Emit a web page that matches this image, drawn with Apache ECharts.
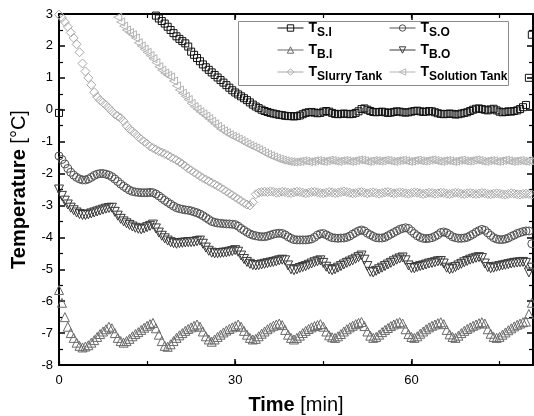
<!DOCTYPE html>
<html><head><meta charset="utf-8">
<script src="https://cdn.jsdelivr.net/npm/echarts@6/dist/echarts.min.js"></script>
<style>html,body{margin:0;padding:0;background:#fff}#c{width:534px;height:416px}</style>
</head><body><div id="c"></div>
<script>
// sampling interval of the logger [min]
const timeStep = 0.5;

// T S.I (squares)
const tSI = [
-0.1,null,null,null,null,null,null,null,null,null,
null,null,null,null,null,null,null,null,null,null,
null,null,null,null,null,null,null,null,null,null,
null,null,null,2.95,2.86,2.78,2.7,2.6,2.5,2.4,
2.3,2.22,2.15,2.08,1.98,1.82,1.72,1.62,1.52,1.42,
1.33,1.25,1.17,1.09,1.01,0.93,0.85,0.77,0.69,0.61,
0.54,0.48,0.42,0.36,0.3,0.23,0.16,0.1,0.05,0.0,
-0.04,-0.07,-0.1,-0.12,-0.14,-0.16,-0.17,-0.19,-0.2,-0.2,
-0.21,-0.2,-0.18,-0.14,-0.1,-0.08,-0.07,-0.09,-0.11,-0.1,
-0.06,-0.04,-0.06,-0.1,-0.13,-0.14,-0.13,-0.12,-0.13,-0.14,
-0.13,-0.1,-0.05,0.02,0.04,0.0,-0.04,-0.07,-0.08,-0.07,
-0.06,-0.08,-0.1,-0.09,-0.07,-0.05,-0.06,-0.08,-0.09,-0.08,
-0.06,-0.04,-0.03,-0.05,-0.07,-0.06,-0.04,-0.05,-0.08,-0.11,
-0.13,-0.14,-0.13,-0.12,-0.13,-0.15,-0.14,-0.12,-0.1,-0.08,
-0.04,0.0,0.03,0.04,0.02,0.0,-0.02,0.01,0.03,-0.02,
-0.06,-0.08,-0.07,-0.05,-0.06,-0.04,-0.02,0.02,0.08,0.15,
1.0,2.35];

// T S.O (circles)
const tSO = [
-1.45,-1.56,-1.7,-1.84,-1.96,-2.05,-2.12,-2.17,-2.2,-2.2,
-2.17,-2.12,-2.06,-2.02,-2.0,-2.0,-2.02,-2.05,-2.1,-2.17,
-2.25,-2.33,-2.4,-2.46,-2.52,-2.56,-2.58,-2.59,-2.6,-2.6,
-2.6,-2.59,-2.6,-2.64,-2.7,-2.77,-2.84,-2.9,-2.96,-3.02,
-3.07,-3.1,-3.12,-3.14,-3.15,-3.17,-3.2,-3.23,-3.27,-3.32,
-3.38,-3.44,-3.5,-3.53,-3.55,-3.56,-3.57,-3.58,-3.58,-3.59,
-3.6,-3.65,-3.72,-3.78,-3.84,-3.89,-3.93,-3.95,-3.97,-3.98,
-3.98,-3.96,-3.93,-3.9,-3.88,-3.87,-3.88,-3.92,-3.98,-4.03,
-4.07,-4.08,-4.08,-4.08,-4.08,-4.07,-4.05,-4.0,-3.93,-3.89,
-3.88,-3.92,-3.97,-4.01,-4.02,-4.03,-4.02,-4.02,-4.0,-3.96,
-3.9,-3.85,-3.8,-3.77,-3.8,-3.87,-3.92,-3.97,-4.01,-4.02,
-4.02,-4.0,-3.95,-3.9,-3.85,-3.8,-3.75,-3.72,-3.7,-3.72,
-3.8,-3.88,-3.95,-4.0,-4.03,-4.04,-4.03,-4.01,-3.97,-3.92,
-3.85,-3.83,-3.86,-3.92,-3.98,-4.01,-4.03,-4.03,-4.02,-4.0,
-3.95,-3.9,-3.84,-3.79,-3.75,-3.78,-3.86,-3.94,-4.01,-4.05,
-4.07,-4.07,-4.05,-4.02,-3.97,-3.93,-3.88,-3.85,-3.82,-3.8,
-3.8,-4.2];

// T B.I (up triangles)
const tBI = [
-5.65,-6.05,-6.5,-6.8,-7.0,-7.15,-7.3,-7.4,-7.45,-7.42,
-7.38,-7.3,-7.22,-7.12,-7.03,-6.95,-6.88,-6.8,-6.85,-7.0,
-7.15,-7.25,-7.3,-7.25,-7.18,-7.1,-7.03,-6.97,-6.9,-6.83,
-6.77,-6.72,-6.68,-6.85,-7.05,-7.25,-7.4,-7.43,-7.35,-7.25,
-7.15,-7.07,-7.0,-6.93,-6.87,-6.82,-6.77,-6.73,-6.8,-6.95,
-7.1,-7.2,-7.27,-7.2,-7.12,-7.05,-6.98,-6.92,-6.87,-6.82,
-6.78,-6.73,-6.8,-6.93,-7.05,-7.15,-7.2,-7.18,-7.1,-7.02,
-6.95,-6.88,-6.82,-6.77,-6.73,-6.7,-6.75,-6.9,-7.05,-7.15,
-7.2,-7.15,-7.08,-7.0,-6.93,-6.87,-6.82,-6.78,-6.75,-6.72,
-6.8,-6.95,-7.07,-7.13,-7.15,-7.1,-7.03,-6.95,-6.88,-6.82,
-6.77,-6.72,-6.68,-6.65,-6.78,-6.95,-7.08,-7.15,-7.12,-7.05,
-6.97,-6.9,-6.84,-6.78,-6.73,-6.69,-6.66,-6.7,-6.88,-7.03,
-7.12,-7.15,-7.1,-7.02,-6.95,-6.88,-6.82,-6.77,-6.73,-6.69,
-6.66,-6.72,-6.9,-7.04,-7.12,-7.15,-7.08,-7.0,-6.93,-6.87,
-6.82,-6.77,-6.73,-6.69,-6.66,-6.7,-6.88,-7.02,-7.12,-7.15,
-7.12,-7.05,-6.98,-6.91,-6.85,-6.79,-6.74,-6.7,-6.66,-6.64,
-6.4,-6.05];

// T B.O (down triangles)
const tBO = [
-2.5,-2.7,-2.85,-2.97,-3.07,-3.15,-3.22,-3.27,-3.3,-3.3,
-3.28,-3.25,-3.22,-3.19,-3.16,-3.13,-3.1,-3.08,-3.07,-3.2,
-3.32,-3.42,-3.5,-3.56,-3.61,-3.66,-3.7,-3.73,-3.75,-3.72,
-3.68,-3.64,-3.6,-3.72,-3.85,-3.95,-4.03,-4.1,-4.15,-4.18,
-4.2,-4.18,-4.17,-4.16,-4.15,-4.15,-4.14,-4.12,-4.1,-4.2,
-4.32,-4.42,-4.48,-4.5,-4.5,-4.49,-4.48,-4.47,-4.45,-4.43,
-4.4,-4.45,-4.57,-4.68,-4.77,-4.83,-4.87,-4.88,-4.87,-4.85,
-4.83,-4.81,-4.79,-4.77,-4.75,-4.72,-4.7,-4.72,-4.88,-5.0,
-5.03,-5.0,-4.96,-4.93,-4.9,-4.86,-4.82,-4.78,-4.75,-4.72,
-4.8,-4.92,-5.0,-5.03,-5.0,-4.95,-4.9,-4.85,-4.8,-4.76,
-4.72,-4.67,-4.62,-4.57,-4.7,-4.9,-5.08,-5.1,-5.05,-5.0,
-4.95,-4.9,-4.85,-4.8,-4.75,-4.7,-4.66,-4.63,-4.72,-4.88,
-4.96,-4.97,-4.93,-4.9,-4.88,-4.85,-4.82,-4.8,-4.78,-4.75,
-4.74,-4.82,-4.95,-5.0,-4.98,-4.93,-4.88,-4.83,-4.78,-4.74,
-4.7,-4.67,-4.64,-4.62,-4.65,-4.82,-4.93,-4.97,-4.95,-4.92,
-4.9,-4.88,-4.86,-4.84,-4.82,-4.8,-4.79,-4.78,-4.77,-4.8,
-5.1,-4.95];

// T Slurry Tank (diamonds)
const tSlurry = [
2.98,2.88,2.75,2.6,2.42,2.25,2.05,1.8,1.45,1.2,
1.0,0.78,0.55,0.4,0.3,0.22,0.14,0.05,-0.05,-0.14,
-0.2,-0.26,-0.36,-0.5,-0.6,-0.68,-0.76,-0.85,-0.93,-1.0,
-1.07,-1.15,-1.2,-1.25,-1.3,-1.34,-1.38,-1.43,-1.48,-1.53,
-1.58,-1.64,-1.7,-1.77,-1.84,-1.9,-1.96,-2.02,-2.08,-2.14,
-2.19,-2.24,-2.29,-2.34,-2.39,-2.44,-2.5,-2.56,-2.62,-2.68,
-2.74,-2.8,-2.86,-2.92,-2.97,-3.0,-2.9,-2.65,-2.6,-2.58,
-2.57,-2.58,-2.56,-2.57,-2.6,-2.59,-2.57,-2.58,-2.6,-2.61,
-2.59,-2.57,-2.58,-2.6,-2.62,-2.6,-2.58,-2.57,-2.59,-2.61,
-2.62,-2.6,-2.58,-2.59,-2.61,-2.6,-2.58,-2.56,-2.58,-2.6,
-2.62,-2.61,-2.59,-2.58,-2.6,-2.62,-2.6,-2.59,-2.61,-2.63,
-2.61,-2.59,-2.58,-2.6,-2.62,-2.61,-2.59,-2.6,-2.62,-2.63,
-2.61,-2.59,-2.6,-2.62,-2.64,-2.62,-2.6,-2.61,-2.63,-2.62,
-2.6,-2.61,-2.63,-2.64,-2.62,-2.6,-2.61,-2.63,-2.64,-2.62,
-2.61,-2.63,-2.64,-2.63,-2.61,-2.62,-2.64,-2.65,-2.63,-2.62,
-2.63,-2.65,-2.66,-2.64,-2.62,-2.63,-2.65,-2.66,-2.64,-2.63,
-2.64,-2.66];

// T Solution Tank (left triangles)
const tSolution = [
null,null,null,null,null,null,null,null,null,null,
null,null,null,null,null,null,null,null,null,null,
2.9,2.75,2.62,2.5,2.42,2.35,2.25,2.1,2.0,1.9,
1.8,1.7,1.6,1.48,1.35,1.24,1.15,1.08,1.03,0.9,
0.75,0.62,0.52,0.42,0.32,0.2,0.1,0.02,-0.06,-0.13,
-0.2,-0.28,-0.36,-0.44,-0.52,-0.6,-0.66,-0.72,-0.78,-0.83,
-0.87,-0.92,-0.97,-1.02,-1.07,-1.12,-1.16,-1.2,-1.25,-1.3,
-1.35,-1.4,-1.44,-1.48,-1.52,-1.55,-1.58,-1.6,-1.62,-1.63,
-1.64,-1.63,-1.62,-1.6,-1.61,-1.63,-1.62,-1.6,-1.59,-1.61,
-1.62,-1.6,-1.58,-1.59,-1.61,-1.62,-1.6,-1.59,-1.6,-1.62,
-1.61,-1.59,-1.57,-1.58,-1.6,-1.62,-1.61,-1.59,-1.6,-1.61,
-1.6,-1.58,-1.59,-1.61,-1.62,-1.6,-1.59,-1.58,-1.6,-1.62,
-1.61,-1.59,-1.58,-1.6,-1.61,-1.6,-1.58,-1.57,-1.59,-1.61,
-1.62,-1.6,-1.59,-1.6,-1.62,-1.61,-1.59,-1.58,-1.6,-1.61,
-1.6,-1.58,-1.57,-1.59,-1.61,-1.62,-1.6,-1.59,-1.6,-1.62,
-1.61,-1.59,-1.58,-1.6,-1.62,-1.61,-1.6,-1.59,-1.61,-1.62,
-1.6,-1.62];

const xTicksMajor = 30;   // labelled ticks 0, 30, 60
const yTicks = 1;         // -8 ... 3

const FONT = '"Liberation Sans", Arial, sans-serif';
const times = tSI.map((_, i) => i * timeStep);

function mk(name, values, symbol, rotate, color, size) {
  return {
    name, type: 'line',
    data: values.map((v, i) => [times[i], v]),
    symbol, symbolRotate: rotate, symbolSize: size, showAllSymbol: true,
    lineStyle: { color, opacity: 0, width: 1 },
    itemStyle: { color: 'rgba(255,255,255,0)', borderColor: color, borderWidth: 1 },
    silent: true, z: 2
  };
}

const series = [
  mk('Solution Tank', tSolution, 'triangle', 90, '#b4b4b4', 8),
  mk('Slurry Tank', tSlurry, 'diamond', 0, '#a8a8a8', 9),
  mk('B.I', tBI, 'triangle', 0, '#6a6a6a', 9),
  mk('B.O', tBO, 'triangle', 180, '#3a3a3a', 9),
  mk('S.O', tSO, 'circle', 0, '#505050', 8),
  mk('S.I', tSI, 'rect', 0, '#111111', 7)
];

const axisBlack = { onZero: false, lineStyle: { color: '#000', width: 2 } };
const noLine = { show: false, onZero: false };
const xCommon = { type: 'value', min: 0, max: 80.7, splitLine: { show: false } };
const yCommon = { type: 'value', min: -8, max: 3, interval: yTicks, splitLine: { show: false } };

const legendRich = {
  t: { fontSize: 14, fontWeight: 'bold', fontFamily: FONT, color: '#000', lineHeight: 14, verticalAlign: 'top' },
  s: { fontSize: 12, fontWeight: 'bold', fontFamily: FONT, color: '#000', lineHeight: 12, padding: [6, 0, 0, 0], verticalAlign: 'top' }
};
function legendCol(data, left) {
  return {
    data, left, top: 21, padding: 0, orient: 'vertical', itemGap: 4, itemWidth: 26, itemHeight: 8,
    selectedMode: false, z: 10,
    formatter: n => '{t|T}{s|' + n + '}',
    textStyle: { rich: legendRich, fontFamily: FONT, padding: [0, 0, 0, 0] },
    lineStyle: { opacity: 1, width: 1 },
    itemStyle: { borderWidth: 1 }
  };
}

const chart = echarts.init(document.getElementById('c'), null, { renderer: 'canvas' });
chart.setOption({
  animation: false,
  backgroundColor: '#fff',
  grid: { left: 59, right: 1, top: 14, bottom: 51, containLabel: false, outerBoundsMode: 'none' },
  legend: [legendCol(['S.I', 'B.I', 'Slurry Tank'], 277), legendCol(['S.O', 'B.O', 'Solution Tank'], 389)],
  graphic: [{
    type: 'rect', shape: { x: 238.5, y: 21.5, width: 270, height: 64 }, z: 5,
    style: { fill: '#fff', stroke: '#8c8c8c', lineWidth: 1 }, silent: true
  }],
  xAxis: [
    Object.assign({}, xCommon, {
      position: 'bottom', interval: xTicksMajor,
      axisLine: axisBlack,
      axisTick: { inside: true, length: 6, lineStyle: { color: '#000', width: 1.5 } },
      axisLabel: { color: '#000', fontSize: 13, fontFamily: FONT, margin: 9, showMaxLabel: false },
      name: '{b|Time} {n|[min]}', nameLocation: 'middle', nameGap: 30,
      nameTextStyle: { fontSize: 20, fontFamily: FONT, color: '#000',
        rich: { b: { fontSize: 20, fontWeight: 'bold', fontFamily: FONT, color: '#000' },
                n: { fontSize: 20, fontFamily: FONT, color: '#000' } } }
    }),
    Object.assign({}, xCommon, {
      position: 'bottom', interval: xTicksMajor / 2,
      axisLine: noLine, axisLabel: { show: false },
      axisTick: { inside: true, length: 4, lineStyle: { color: '#000', width: 1.2 } }
    }),
    Object.assign({}, xCommon, {
      position: 'top', interval: xTicksMajor,
      axisLine: axisBlack, axisLabel: { show: false },
      axisTick: { inside: true, length: 6, lineStyle: { color: '#000', width: 1.5 } }
    }),
    Object.assign({}, xCommon, {
      position: 'top', interval: xTicksMajor / 2,
      axisLine: noLine, axisLabel: { show: false },
      axisTick: { inside: true, length: 4, lineStyle: { color: '#000', width: 1.2 } }
    })
  ],
  yAxis: [
    Object.assign({}, yCommon, {
      position: 'left',
      axisLine: axisBlack,
      axisTick: { inside: true, length: 6, lineStyle: { color: '#000', width: 1.5 } },
      minorTick: { show: true, splitNumber: 2, length: 4, lineStyle: { color: '#000', width: 1.2 } },
      axisLabel: { color: '#000', fontSize: 13, fontFamily: FONT, margin: 6 },
      name: '{b|Temperature} {n|[°C]}', nameLocation: 'middle', nameGap: 30,
      nameTextStyle: { fontSize: 20, fontFamily: FONT, color: '#000',
        rich: { b: { fontSize: 20, fontWeight: 'bold', fontFamily: FONT, color: '#000' },
                n: { fontSize: 20, fontFamily: FONT, color: '#000' } } }
    }),
    Object.assign({}, yCommon, {
      position: 'right',
      axisLine: axisBlack, axisLabel: { show: false },
      axisTick: { inside: true, length: 6, lineStyle: { color: '#000', width: 1.5 } },
      minorTick: { show: true, splitNumber: 2, length: 4, lineStyle: { color: '#000', width: 1.2 } }
    })
  ],
  series
});
</script>
</body></html>
